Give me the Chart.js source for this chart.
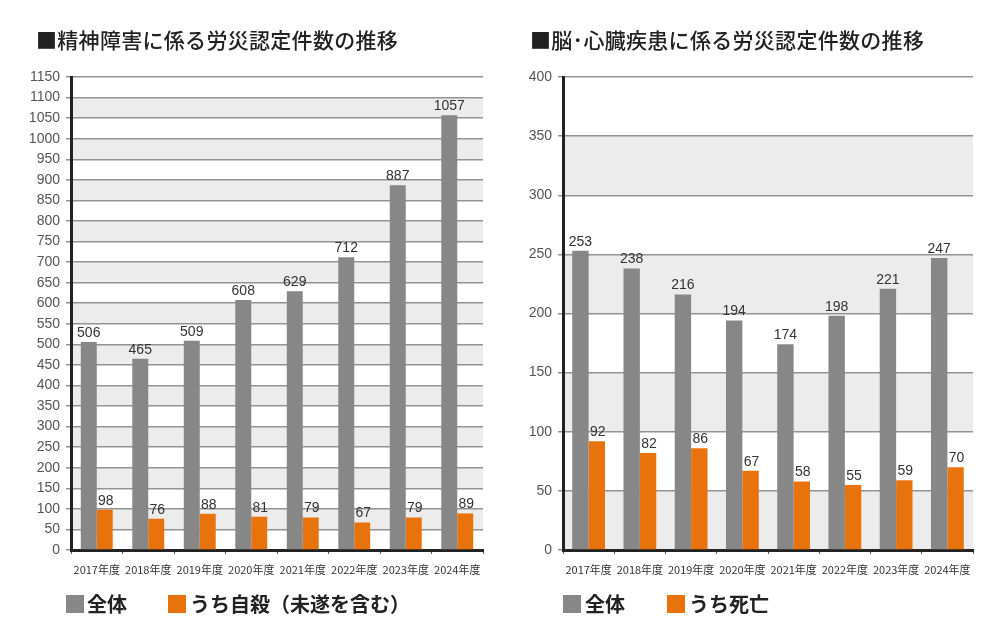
<!DOCTYPE html>
<html>
<head>
<meta charset="utf-8">
<script src="https://cdn.jsdelivr.net/npm/chart.js@4"></script>
<style>
  body { margin: 0; background: #fff; font-family: "Noto Sans CJK JP", sans-serif; }
  .panel { position: absolute; top: 0; height: 625px; }
  .title { position: absolute; top: 24px; font-size: 21px; font-weight: 500; color: #222; white-space: nowrap; letter-spacing: 0.3px; }
  .legend { position: absolute; top: 589px; font-size: 20px; font-weight: bold; color: #222; white-space: nowrap; }
  .legend span { position: absolute; top: 0; }
  .legend i { position: absolute; top: 6px; width: 18px; height: 18px; }
</style>
</head>
<body>
<div class="panel" style="left:0;width:500px">
  <canvas id="mental" width="500" height="625"></canvas>
  <div class="title" style="left:36px">■精神障害に係る労災認定件数の推移</div>
  <div class="legend">
    <i style="left:66px;background:#878787"></i><span style="left:87px">全体</span>
    <i style="left:168px;background:#e8730c"></i><span style="left:190px">うち自殺（未遂を含む）</span>
  </div>
</div>
<div class="panel" style="left:500px;width:503px">
  <canvas id="heart" width="503" height="625"></canvas>
  <div class="title" style="left:30px">■脳･心臓疾患に係る労災認定件数の推移</div>
  <div class="legend">
    <i style="left:63px;background:#878787"></i><span style="left:85px">全体</span>
    <i style="left:167px;background:#e8730c"></i><span style="left:189px">うち死亡</span>
  </div>
</div>
<script>
const years = ['2017年度', '2018年度', '2019年度', '2020年度', '2021年度', '2022年度', '2023年度', '2024年度'];

const mentalTotal = [506, 465, 509, 608, 629, 712, 887, 1057];
const mentalSuicide = [98, 76, 88, 81, 79, 67, 79, 89];

const heartTotal = [253, 238, 216, 194, 174, 198, 221, 247];
const heartDeath = [92, 82, 86, 67, 58, 55, 59, 70];

const GRAY = '#878787';
const ORANGE = '#e8730c';

// shaded bands every other 50 step
const bandPlugin = {
  id: 'bands',
  beforeDraw(chart, args, opts) {
    const {ctx, chartArea} = chart;
    const y = chart.scales.y;
    ctx.save();
    ctx.fillStyle = '#ececec';
    for (let v = y.min; v < y.max; v += 50) {
      if (v % 100 !== opts.start) continue;
      const top = y.getPixelForValue(v + 50);
      const bot = y.getPixelForValue(v);
      ctx.fillRect(chartArea.left, top, chartArea.right - chartArea.left, bot - top);
    }
    ctx.restore();
  }
};

// numbers above the bars
const valuePlugin = {
  id: 'values',
  afterDatasetsDraw(chart) {
    const ctx = chart.ctx;
    ctx.save();
    ctx.font = '14px "Liberation Sans", Arial, sans-serif';
    ctx.fillStyle = '#333';
    ctx.textAlign = 'center';
    ctx.textBaseline = 'bottom';
    chart.data.datasets.forEach((ds, i) => {
      chart.getDatasetMeta(i).data.forEach((bar, j) => {
        ctx.fillText(ds.data[j], bar.x + (i ? 1 : 0), bar.y - 2);
      });
    });
    ctx.restore();
  }
};

function makeChart(id, total, sub, max, bandStart, padLeft, padRight, catPct) {
  return new Chart(document.getElementById(id), {
    type: 'bar',
    data: {
      labels: years,
      datasets: [
        {data: total, backgroundColor: GRAY, barPercentage: 1, categoryPercentage: catPct},
        {data: sub, backgroundColor: ORANGE, barPercentage: 1, categoryPercentage: catPct}
      ]
    },
    options: {
      responsive: false,
      animation: false,
      layout: {padding: {top: 77, bottom: 40, left: padLeft, right: padRight}},
      plugins: {
        legend: {display: false},
        tooltip: {enabled: false},
        bands: {start: bandStart}
      },
      scales: {
        x: {
          grid: {display: true, drawOnChartArea: false, offset: true, tickLength: 4, color: '#555'},
          border: {color: '#222', width: 3},
          ticks: {
            color: '#333', padding: 9, maxRotation: 0, minRotation: 0, autoSkip: false,
            font: {family: '"Liberation Sans Narrow", "Noto Sans CJK JP"', size: 11}
          },
          afterFit: s => { s.height = 35; }
        },
        y: {
          min: 0, max: max,
          grid: {color: '#939393', lineWidth: 1.5, tickLength: 5},
          border: {color: '#222', width: 3},
          ticks: {
            stepSize: 50, color: '#555', padding: 6,
            font: {family: '"Liberation Sans", Arial', size: 14},
            callback: v => String(v)
          },
          afterFit: s => { s.width = 51; }
        }
      }
    },
    plugins: [bandPlugin, valuePlugin]
  });
}

makeChart('mental', mentalTotal, mentalSuicide, 1150, 50, 20, 17, 0.62);
makeChart('heart', heartTotal, heartDeath, 400, 0, 12, 30, 0.64);
</script>
</body>
</html>
